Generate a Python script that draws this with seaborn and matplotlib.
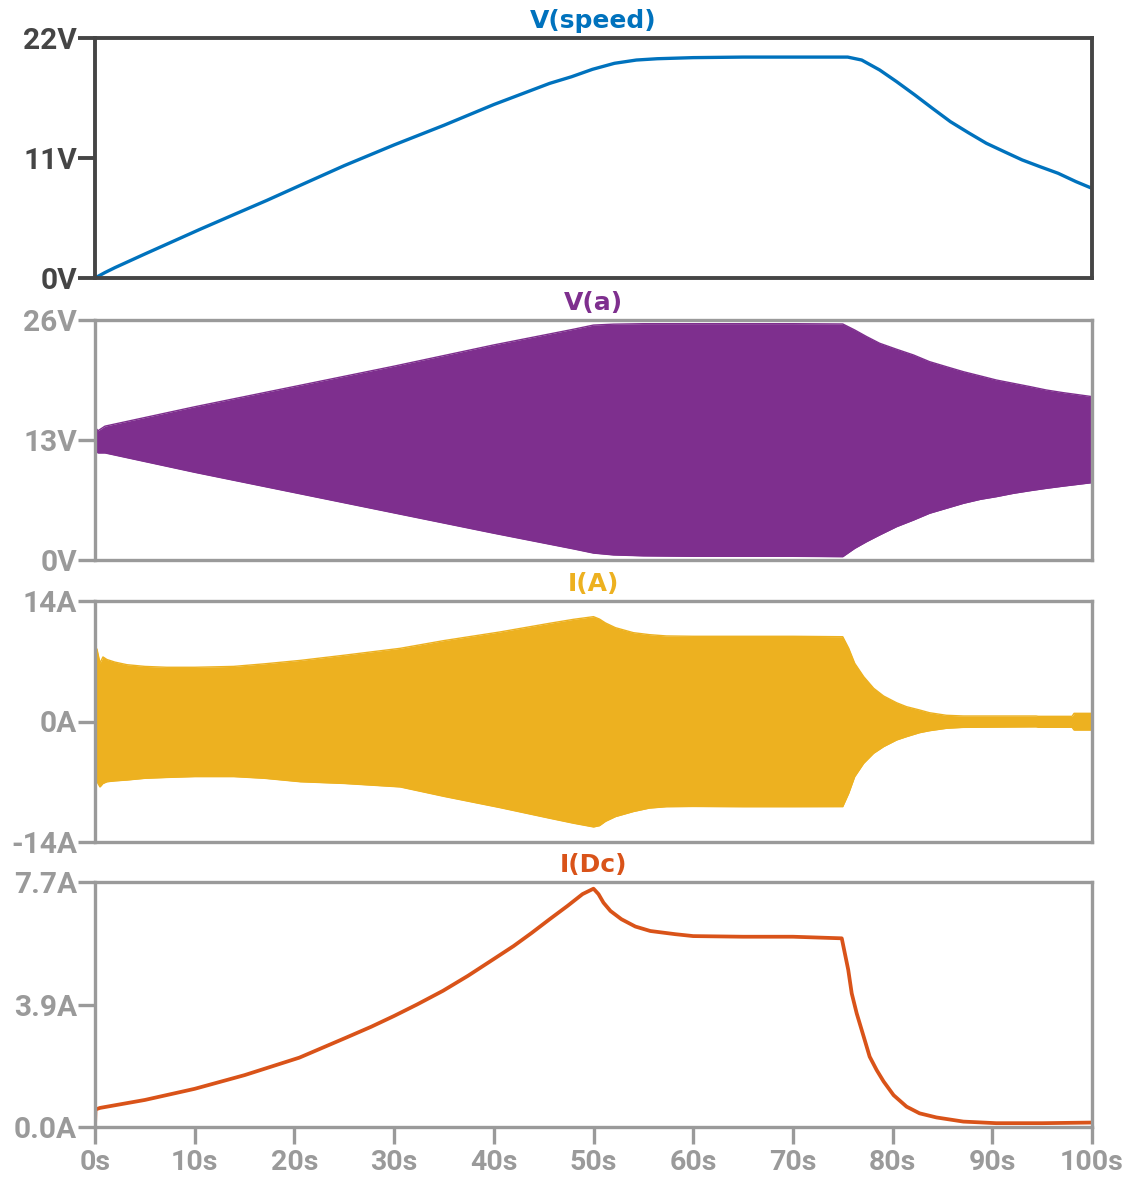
import numpy as np
import pandas as pd
import matplotlib
matplotlib.use("Agg")
import matplotlib.pyplot as plt
import seaborn as sns

# ---------------- data ----------------
t_speed = [0, 1, 2, 3.2, 5, 7.2, 10.5, 13.9, 17.2, 20.6, 25, 30, 35, 40, 45.6, 47.8, 49.9, 52.1, 54.3, 56.4,
           60, 65, 70, 75.5, 76.9, 78.7, 80.4, 82.2, 84.0, 85.8, 87.6, 89.4, 91.2, 93.0, 94.8, 96.6, 98.4, 100]
v_speed = [0, 0.5, 0.95, 1.45, 2.2, 3.1, 4.45, 5.8, 7.1, 8.5, 10.3, 12.2, 14.0, 15.9, 17.84, 18.45, 19.13, 19.68,
           19.98, 20.1, 20.2, 20.25, 20.25, 20.25, 19.98, 19.07, 18.0, 16.8, 15.55, 14.33, 13.32, 12.35, 11.58,
           10.82, 10.2, 9.6, 8.83, 8.22]

t_va = [0, 0.3, 1, 10, 20, 30, 40, 48, 50, 52, 55, 60, 65, 70, 75, 76.2, 77.4, 78.7, 80.4, 82.1,
        83.7, 85.4, 87.1, 88.8, 90.4, 92.1, 93.8, 95.4, 97.1, 100]
va_hi = [14.4, 14.0, 14.5, 16.6, 18.8, 21.0, 23.3, 25.0, 25.45, 25.55, 25.6, 25.6, 25.6, 25.6, 25.57, 24.92,
         24.2, 23.48, 22.83, 22.21, 21.49, 20.94, 20.4, 19.94, 19.5, 19.14, 18.78, 18.42, 18.13, 17.7]
va_lo = [11.9, 11.6, 11.6, 9.5, 7.3, 5.1, 2.9, 1.2, 0.75, 0.55, 0.45, 0.4, 0.4, 0.4, 0.36, 1.26,
         1.99, 2.71, 3.61, 4.33, 5.06, 5.6, 6.14, 6.57, 6.86, 7.22, 7.51, 7.76, 8.0, 8.38]

t_ia = [0, 0.2, 0.5, 0.8, 1.2, 2, 3.2, 5, 7.2, 10, 13.9, 17, 20.6, 25, 30.6, 35, 40.6, 45.6, 48, 50,
        50.6, 51.2, 52.2, 54, 55.6, 57.3, 60, 65, 70, 75, 75.6, 76.2, 77.1, 78.1, 79.1, 80.4, 81.4, 82.7,
        83.7, 85.4, 87.1, 94.4, 94.6, 98, 98.2, 100]
ia_hi = [8.7, 8.4, 6.8, 7.5, 7.2, 6.9, 6.6, 6.4, 6.3, 6.3, 6.4, 6.7, 7.1, 7.7, 8.5, 9.4, 10.4, 11.41, 11.87,
         12.18, 11.9, 11.45, 10.9, 10.32, 10.09, 9.94, 9.9, 9.9, 9.9, 9.85, 8.5, 6.76, 5.21, 3.86, 2.96,
         2.18, 1.72, 1.34, 1.02, 0.72, 0.64, 0.64, 0.6, 0.6, 0.95, 0.95]
ia_lo = [-7.3, -7.0, -7.6, -7.2, -7.0, -6.9, -6.8, -6.6, -6.5, -6.4, -6.4, -6.6, -7.0, -7.2, -7.6, -8.7,
         -10.0, -11.24, -11.82, -12.25, -12.1, -11.6, -11.05, -10.46, -10.06, -9.9, -9.87, -9.9, -9.9,
         -9.89, -8.34, -6.41, -4.86, -3.69, -2.92, -2.15, -1.76, -1.3, -1.07, -0.79, -0.68, -0.62, -0.67,
         -0.67, -0.99, -0.99]

t_idc = [0, 0.05, 0.5, 5, 10, 15, 20.5, 25.2, 27.7, 30, 32.3, 34.9, 37.4, 40, 42.0, 43.8, 45.6, 47.4,
         48.9, 50, 50.5, 51.0, 51.7, 52.8, 54.2, 55.7, 58.2, 60, 65, 70, 74.9, 75.55, 75.9, 76.4, 77.1,
         77.7, 78.4, 79.1, 80.1, 81.4, 82.7, 84.4, 87.1, 90.4, 95, 100]
i_dc = [0, 0.55, 0.6, 0.85, 1.2, 1.63, 2.18, 2.81, 3.15, 3.49, 3.85, 4.28, 4.75, 5.28, 5.69, 6.1, 6.53,
        6.95, 7.32, 7.49, 7.32, 7.05, 6.79, 6.53, 6.3, 6.16, 6.06, 6.0, 5.98, 5.98, 5.93, 4.94, 4.2,
        3.57, 2.84, 2.21, 1.79, 1.43, 1.0, 0.64, 0.43, 0.30, 0.17, 0.12, 0.12, 0.14]

titles = ["V(speed)", "V(a)", "I(A)", "I(Dc)"]
y_ticks = [[0, 11, 22], [0, 13, 26], [-14, 0, 14], [0, 3.85, 7.7]]
y_ticklabels = [["0V", "11V", "22V"], ["0V", "13V", "26V"], ["-14A", "0A", "14A"], ["0.0A", "3.9A", "7.7A"]]
x_ticks = [0, 10, 20, 30, 40, 50, 60, 70, 80, 90, 100]
x_ticklabels = ["0s", "10s", "20s", "30s", "40s", "50s", "60s", "70s", "80s", "90s", "100s"]

colors = ["#0072BD", "#7E2F8E", "#EDB120", "#D95319"]

# ---------------- style ----------------
sns.set_theme(style="white")
plt.rcParams['font.family'] = ['Roboto', 'DejaVu Sans']
plt.rcParams['font.weight'] = 'bold'

fig = plt.figure(figsize=(11.23, 11.77), dpi=100)
W, H = 1123.0, 1177.0
left_px, right_px = 95, 1092
panel_px = [(38, 278), (320, 560), (601, 842), (882, 1127)]
axes = []
for (top, bot) in panel_px:
    ax = fig.add_axes([left_px / W, 1 - bot / H, (right_px - left_px) / W, (bot - top) / H])
    axes.append(ax)

df_speed = pd.DataFrame({"t": t_speed, "v": v_speed})
df_va = pd.DataFrame({"t": t_va, "hi": va_hi, "lo": va_lo})
df_ia = pd.DataFrame({"t": t_ia, "hi": ia_hi, "lo": ia_lo})
df_idc = pd.DataFrame({"t": t_idc, "i": i_dc})

# panel 1
sns.lineplot(data=df_speed, x="t", y="v", ax=axes[0], color=colors[0], linewidth=2.4)
# panel 2
axes[1].fill_between(df_va["t"], df_va["lo"], df_va["hi"], color=colors[1], linewidth=0)
sns.lineplot(data=df_va, x="t", y="hi", ax=axes[1], color=colors[1], linewidth=1.0)
sns.lineplot(data=df_va, x="t", y="lo", ax=axes[1], color=colors[1], linewidth=1.0)
# panel 3
axes[2].fill_between(df_ia["t"], df_ia["lo"], df_ia["hi"], color=colors[2], linewidth=0)
sns.lineplot(data=df_ia, x="t", y="hi", ax=axes[2], color=colors[2], linewidth=1.0)
sns.lineplot(data=df_ia, x="t", y="lo", ax=axes[2], color=colors[2], linewidth=1.0)
# panel 4
sns.lineplot(data=df_idc, x="t", y="i", ax=axes[3], color=colors[3], linewidth=2.7)

for k, ax in enumerate(axes):
    sc = "#454545" if k == 0 else "#9A9A9A"
    sw = 2.8 if k == 0 else 2.4
    ax.set_xlim(0, 100)
    ax.set_ylim(y_ticks[k][0], y_ticks[k][-1])
    ax.set_xlabel("")
    ax.set_ylabel("")
    for s in ax.spines.values():
        s.set_visible(True)
        s.set_color(sc)
        s.set_linewidth(sw)
    ax.set_yticks(y_ticks[k])
    ax.set_yticklabels(y_ticklabels[k])
    ax.tick_params(axis='y', which='both', left=True, direction='out', length=12.5, width=sw,
                   color=sc, labelcolor=sc, labelsize=21.5, pad=0.5)
    ax.set_title(titles[k], color=colors[k], fontsize=18, fontweight='bold',
                 family=['DejaVu Sans'], pad=7.5)
    if k < 3:
        ax.tick_params(axis='x', bottom=False, labelbottom=False)
        ax.set_xticks([])
    else:
        ax.set_xticks(x_ticks)
        ax.set_xticklabels(x_ticklabels)
        ax.tick_params(axis='x', bottom=True, direction='out', length=12.5, width=sw,
                       color=sc, labelcolor=sc, labelsize=20.5, pad=3)
    for lab in ax.get_yticklabels() + ax.get_xticklabels():
        lab.set_fontweight('bold')
    ax.grid(False)
    ax.set_facecolor("white")

fig.savefig("out.png", dpi=100, facecolor="white")
